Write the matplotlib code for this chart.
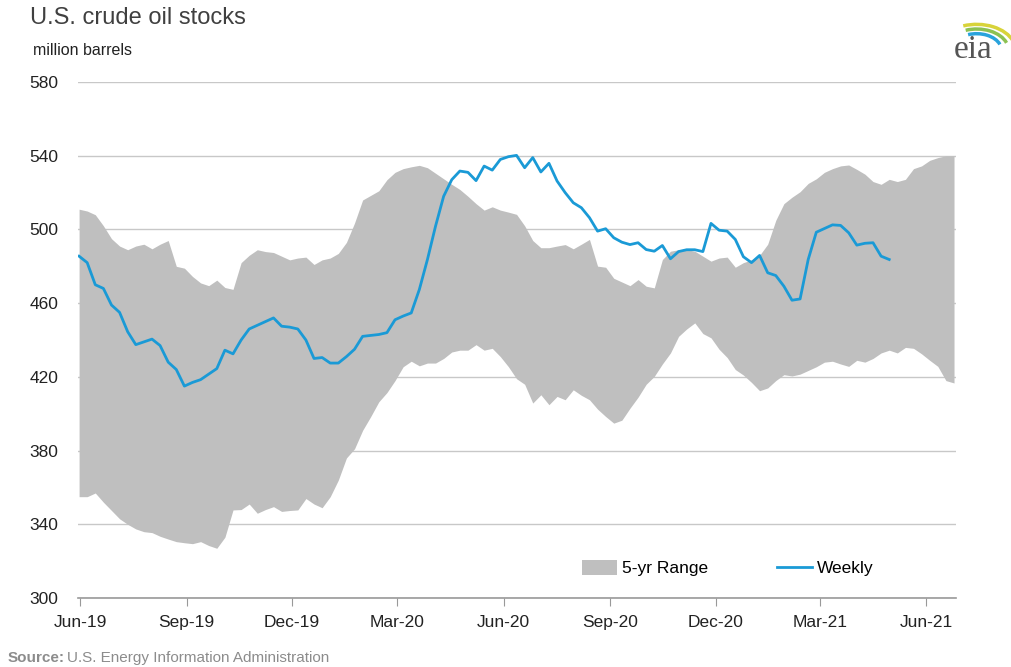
import matplotlib
matplotlib.use('Agg')
import matplotlib.pyplot as plt
import matplotlib.dates as mdates
import numpy as np
import pandas as pd
from matplotlib.patches import Arc

plt.rcParams['font.family'] = ['Liberation Sans', 'DejaVu Sans']

# weekly U.S. crude oil stocks (million barrels), weeks from 2019-05-31
weekly = [485.5, 482, 470, 468, 459, 455, 444.5, 437.5, 439, 440.5,
          437, 428, 424, 415, 417, 418.5, 421.5, 424.5, 434.5, 432.5,
          440, 446, 448, 450, 452, 447.5, 447, 446, 440, 430,
          430.5, 427.5, 427.5, 431, 435, 442, 442.5, 443, 444, 451,
          453, 454.7, 467.4, 483.7, 501.8, 518, 527, 531.7, 531, 526.5,
          534.4, 532.2, 538, 539.5, 540.2, 533.5, 539, 531.2, 535.9, 526.3,
          520, 514.5, 511.8, 506.4, 499.1, 500.4, 495.5, 493.1, 491.8, 492.8,
          489.1, 488.2, 491.3, 484.1, 488, 489, 489, 488, 503.3, 499.6,
          499.1, 494.6, 485.2, 482, 485.9, 476.5, 475, 469.2, 461.6, 462.3,
          483.7, 498.5, 500.5, 502.5, 502.2, 498.2, 491.5, 492.5, 492.8, 485.5,
          483.7]

# 5-year range, upper and lower bound
range_hi = [511, 510, 508, 502, 495, 491, 489, 491, 492, 489.5,
            492, 494, 480, 479, 474.5, 471, 469.5, 472.5, 468.5, 467.5,
            482, 486, 489, 488, 487.5, 485.5, 483.5, 484.5, 485, 481,
            483.5, 484.5, 487, 493, 503.5, 516, 518.5, 521, 527, 531,
            533, 534, 534.8, 533.5, 530.5, 527.5, 524.5, 521.7, 518, 514,
            510.5, 512.3, 510.5, 509.4, 508.2, 502, 494, 490.1, 490.1, 491,
            491.8, 489.5, 492, 494.6, 480.1, 479.5, 473.5, 471.5, 469.5, 472.8,
            469.2, 468.3, 483.7, 488.2, 489, 489, 488.2, 485.5, 482.8, 484.5,
            485, 479.5, 482, 483.5, 486, 492, 505, 514, 517.5, 520.5,
            525, 527.5, 531, 533, 534.5, 535, 532.6, 530, 526, 524.5,
            527.2, 526, 527.2, 533, 534.5, 537.5, 539, 540, 540]
range_lo = [355, 355, 357, 352, 347.5, 343, 340, 337.5, 336, 335.5,
            333.5, 332, 330.6, 330, 329.5, 330.6, 328.5, 327, 333, 347.8,
            348, 351, 346, 348, 349.6, 347, 347.5, 347.8, 354, 351,
            349, 355, 364, 376, 381, 391, 398.5, 406.5, 411.5, 418,
            425.5, 428.5, 426, 427.5, 427.5, 430, 433.5, 434.5, 434.5, 437.5,
            434.5, 435.5, 431, 425.5, 419, 416, 405.8, 410.3, 404.9, 409.4,
            407.6, 413, 410, 407.6, 402.5, 398.5, 394.9, 396.5, 403, 409,
            416, 420.3, 427, 433, 442, 446, 449.3, 443.5, 441.2, 435,
            430.5, 424, 421, 417, 412.5, 414, 418, 421.2, 420.5, 421.5,
            423.5, 425.5, 428, 428.5, 427, 425.7, 429, 428, 430, 433,
            434.5, 433, 436, 435.5, 432.5, 429, 425.7, 418, 416.7]

week_dates = pd.date_range('2019-05-31', periods=len(range_hi), freq='7D')
tick_dates = pd.date_range('2019-06-01', '2021-06-01', freq='3MS')
y_ticks = [300, 340, 380, 420, 460, 500, 540, 580]

fig = plt.figure(figsize=(10.12, 6.67), dpi=100)
ax = fig.add_axes([0.077, 0.1034, 0.868, 0.7736])

ax.fill_between(week_dates, range_lo, range_hi, color='#bfbfbf', lw=0, label='5-yr Range')
ax.plot(week_dates[:len(weekly)], weekly, color='#1a9ad6', lw=2, label='Weekly')

ax.set_ylim(300, 580)
ax.set_yticks(y_ticks)
ax.set_xlim(pd.Timestamp('2019-05-30'), pd.Timestamp('2021-06-27'))
ax.set_xticks(tick_dates)
ax.xaxis.set_major_formatter(mdates.DateFormatter('%b-%y'))
ax.grid(axis='y', color='#c8c8c8', lw=1)
ax.set_axisbelow(True)
for s in ['top', 'right', 'left']:
    ax.spines[s].set_visible(False)
ax.spines['bottom'].set_color('#999999')
ax.spines['bottom'].set_linewidth(1.2)
ax.tick_params(axis='y', length=0, labelsize=12.5, labelcolor='#222222', pad=14)
ax.tick_params(axis='x', length=6, color='#999999', labelsize=12.5, labelcolor='#222222', pad=6)

ax.legend(loc='center', bbox_to_anchor=(0.74, 0.058), ncol=2, frameon=False,
          fontsize=12.5, handlelength=2.0, handleheight=1.0, columnspacing=4.0,
          handletextpad=0.3)

fig.text(0.03, 0.973, 'U.S. crude oil stocks', fontsize=17, color='#404040', va='center')
fig.text(0.033, 0.925, 'million barrels', fontsize=11.5, color='#222222', va='center')
fig.text(0.008, 0.008, 'Source:', fontsize=11, color='#8c8c8c', weight='bold')
fig.text(0.066, 0.008, 'U.S. Energy Information Administration', fontsize=11, color='#8c8c8c')

# eia logo
fig.text(0.962, 0.925, 'eia', fontsize=24, color='#555555', family='Liberation Serif',
         ha='center', va='center')
lax = fig.add_axes([0.93, 0.925, 0.07, 0.07])
lax.set_xlim(0, 1)
lax.set_ylim(0, 1)
lax.axis('off')
for r, c, w in [(0.55, '#d8d33a', 2.5), (0.45, '#8cc152', 2.5), (0.35, '#29a3dc', 2.5)]:
    lax.add_patch(Arc((0.5, 0.0), 2 * r, 2 * r, theta1=20, theta2=110, color=c, lw=w))

fig.savefig('out.png', dpi=100)
